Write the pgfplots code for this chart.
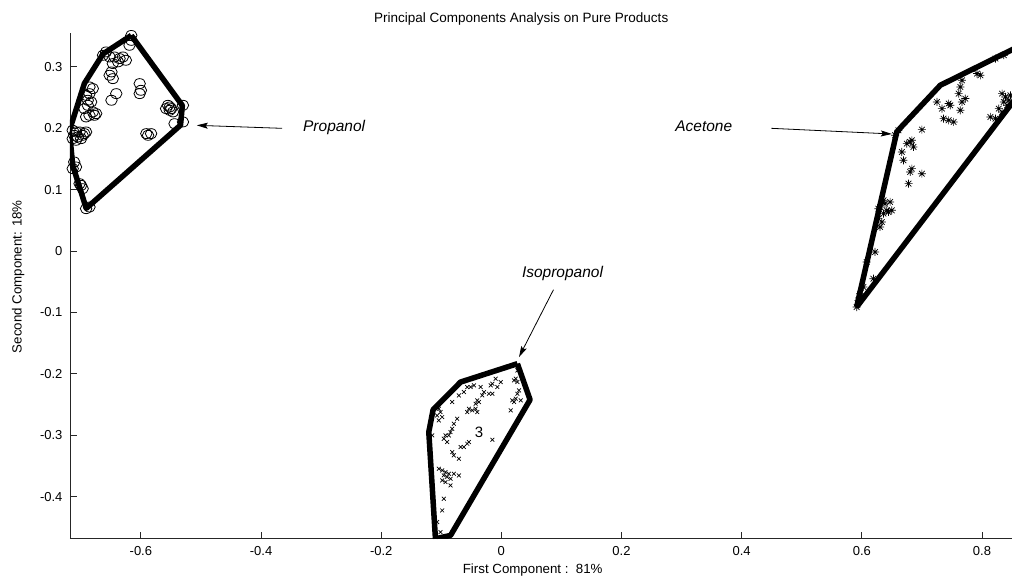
\documentclass[border=0pt]{standalone}
\usepackage{pgfplots}
\pgfplotsset{compat=1.18}
\usepackage{fontspec}
\setmainfont{Liberation Sans}
\usetikzlibrary{arrows.meta}

% eight-ray asterisk: a plus and a cross laid over each other
\pgfdeclareplotmark{star8}{%
  \pgfpathmoveto{\pgfqpoint{-\pgfplotmarksize}{0pt}}%
  \pgfpathlineto{\pgfqpoint{\pgfplotmarksize}{0pt}}%
  \pgfpathmoveto{\pgfqpoint{0pt}{-\pgfplotmarksize}}%
  \pgfpathlineto{\pgfqpoint{0pt}{\pgfplotmarksize}}%
  \pgfpathmoveto{\pgfqpoint{-0.7071\pgfplotmarksize}{-0.7071\pgfplotmarksize}}%
  \pgfpathlineto{\pgfqpoint{0.7071\pgfplotmarksize}{0.7071\pgfplotmarksize}}%
  \pgfpathmoveto{\pgfqpoint{-0.7071\pgfplotmarksize}{0.7071\pgfplotmarksize}}%
  \pgfpathlineto{\pgfqpoint{0.7071\pgfplotmarksize}{-0.7071\pgfplotmarksize}}%
  \pgfusepathqstroke}

\begin{document}
\begin{tikzpicture}
\useasboundingbox (-70pt,-37.5pt) rectangle (942pt,538.5pt);
\begin{axis}[
  at={(0,0)}, anchor=south west,
  scale only axis, width=942pt, height=505.5pt,
  xmin=-0.718, xmax=0.85, ymin=-0.468, ymax=0.355,
  axis x line*=bottom, axis y line*=left,
  axis line style={line width=0.8pt, black!85},
  tick style={line width=0.8pt, black!85},
  tick align=inside, major tick length=7pt,
  xtick={-0.6,-0.4,-0.2,0,0.2,0.4,0.6,0.8},
  ytick={-0.4,-0.3,-0.2,-0.1,0,0.1,0.2,0.3},
  /pgf/number format/assume math mode=true,
  /pgf/number format/fixed,
  ticklabel style={font=\fontsize{13}{15}\selectfont},
  xticklabel style={anchor=base, yshift=-16.5pt},
  yticklabel style={anchor=east, xshift=-4pt},
  label style={font=\fontsize{13.3}{15}\selectfont},
  title style={font=\fontsize{13.5}{15}\selectfont},
  title={Principal Components Analysis on Pure Products},
  title style={at={(axis description cs:0.4790,1.008)}, anchor=base},
  xlabel={First Component :\ \ 81\%},
  xlabel style={at={(axis description cs:0.4912,-0.0688)}, anchor=base},
  ylabel={Second Component: 18\%},
  ylabel style={at={(axis description cs:-0.0513,0.518)}, anchor=base, rotate=0},
]

% Propanol scores
\addplot [only marks, mark=o, mark size=5pt, mark options={xscale=1.15, line width=0.8pt, black}] coordinates {
(-0.616,0.351) (-0.616,0.343) (-0.619,0.335)
(-0.658,0.3242) (-0.663,0.3187) (-0.652,0.316) (-0.644,0.316) (-0.6355,0.3133)
(-0.630,0.316) (-0.625,0.3106) (-0.638,0.308) (-0.6467,0.3052) (-0.649,0.2916)
(-0.652,0.2862) (-0.6467,0.2807)
(-0.602,0.2726) (-0.600,0.2617) (-0.602,0.2563) (-0.641,0.2563) (-0.649,0.2455)
(-0.555,0.2373) (-0.552,0.2346) (-0.558,0.2319) (-0.5493,0.2319) (-0.552,0.2292)
(-0.5465,0.2265) (-0.530,0.2373) (-0.544,0.2074) (-0.530,0.2102)
(-0.591,0.1912) (-0.588,0.1884) (-0.583,0.1912)
(-0.6856,0.2672) (-0.68,0.2645) (-0.6856,0.2563) (-0.6912,0.2536) (-0.6884,0.2455)
(-0.6828,0.2427) (-0.6884,0.2373) (-0.694,0.2319) (-0.68,0.2265) (-0.6745,0.2237)
(-0.6773,0.221) (-0.6856,0.221) (-0.6912,0.2183)
(-0.7135,0.1966) (-0.708,0.1939) (-0.702,0.1939) (-0.711,0.1884) (-0.705,0.1857)
(-0.697,0.1884) (-0.694,0.1912) (-0.7135,0.183) (-0.708,0.1803) (-0.6995,0.183)
(-0.6912,0.1939)
(-0.711,0.145) (-0.708,0.1369) (-0.7135,0.1342)
(-0.702,0.1097) (-0.697,0.1016) (-0.6995,0.107)
(-0.6912,0.069) (-0.6856,0.0717)
};

% Acetone scores
\addplot [only marks, mark=star8, mark size=4pt, mark options={line width=0.7pt, black}] coordinates {
(0.5914,-0.0911) (0.5942,-0.0803) (0.597,-0.0694) (0.6026,-0.0585) (0.6193,-0.0450)
(0.6081,-0.0178) (0.622,-0.0015) (0.6304,0.0392) (0.6332,0.0473) (0.6276,0.0528)
(0.636,0.0609) (0.6415,0.0663) (0.6304,0.0718) (0.6387,0.0772) (0.6471,0.0799)
(0.6276,0.0690) (0.636,0.0826) (0.6443,0.0636) (0.6499,0.0663)
(0.6777,0.1098) (0.70,0.1260) (0.6805,0.1288) (0.6833,0.1342) (0.6693,0.1478)
(0.6666,0.1613) (0.6805,0.1776) (0.686,0.1695) (0.6833,0.1803) (0.6749,0.1749)
(0.70,0.1977) (0.6554,0.1885) (0.661,0.1966)
(0.725,0.2428) (0.7333,0.2319) (0.7445,0.2401) (0.7472,0.2373) (0.7361,0.2156)
(0.7445,0.2129) (0.7528,0.2102) (0.764,0.2292) (0.7667,0.2428) (0.7723,0.2482)
(0.7612,0.2563) (0.764,0.2672) (0.7667,0.278)
(0.7918,0.2889) (0.7973,0.2862) (0.8224,0.3133) (0.8363,0.3188)
(0.8335,0.2563) (0.8391,0.2509) (0.8363,0.2428) (0.8419,0.2373) (0.828,0.2319)
(0.8335,0.2265) (0.814,0.2183) (0.8224,0.2156) (0.8446,0.2455) (0.8474,0.2536)
};

% Isopropanol scores
\addplot [only marks, mark=x, mark size=2.7pt, mark options={line width=0.7pt, black}] coordinates {
(0.0267,-0.1943) (0.0239,-0.2078) (0.0267,-0.2133) (0.0211,-0.2106) (0.0183,-0.2431)
(0.0239,-0.2404) (0.0267,-0.2323) (0.0295,-0.2268) (0.0211,-0.2458) (0.0155,-0.2594)
(0.0322,-0.2431)
(-0.0011,-0.2133) (-0.0095,-0.2078) (-0.015,-0.216) (-0.0178,-0.2187) (-0.0067,-0.2214)
(-0.0206,-0.2323) (-0.015,-0.2323) (-0.029,-0.2296) (-0.0318,-0.235) (-0.0401,-0.2431)
(-0.0373,-0.2458) (-0.0429,-0.2486) (-0.0345,-0.2214) (-0.0457,-0.2187) (-0.0512,-0.2214)
(-0.0568,-0.2214) (-0.0624,-0.2296) (-0.0818,-0.2458) (-0.0707,-0.235)
(-0.054,-0.2567) (-0.0485,-0.2594) (-0.0429,-0.2567) (-0.0401,-0.2621) (-0.0568,-0.2621)
(-0.1041,-0.2567) (-0.1013,-0.2621) (-0.1069,-0.2676) (-0.0985,-0.2703) (-0.1041,-0.2757)
(-0.0735,-0.273) (-0.0791,-0.2811) (-0.0818,-0.2893) (-0.0846,-0.2947) (-0.0874,-0.3001)
(-0.093,-0.3001) (-0.0958,-0.3056) (-0.0902,-0.311) (-0.0624,-0.3191) (-0.0568,-0.3137)
(-0.054,-0.311) (-0.0679,-0.3191) (-0.0818,-0.3273) (-0.0791,-0.3327) (-0.0707,-0.3381)
(-0.015,-0.3072) (-0.1152,-0.3001)
(-0.1041,-0.3544) (-0.0985,-0.3571) (-0.093,-0.3599) (-0.0874,-0.3626) (-0.0958,-0.3653)
(-0.0902,-0.368) (-0.0846,-0.3707) (-0.093,-0.3761) (-0.0846,-0.3816) (-0.0985,-0.3734)
(-0.0707,-0.3653) (-0.0791,-0.3626)
(-0.0958,-0.4033) (-0.0985,-0.4223) (-0.1069,-0.4413) (-0.1013,-0.4576) (-0.1097,-0.4657)
};

% convex hulls of the three groups
\addplot [black, line width=5.5pt, line join=round, mark=none] coordinates {
(-0.616,0.351) (-0.531,0.237) (-0.534,0.205) (-0.691,0.0695) (-0.7135,0.1396)
(-0.719,0.196) (-0.694,0.273) (-0.663,0.321) (-0.616,0.351)
};
\addplot [black, line width=5.5pt, line join=round, mark=none] coordinates {
(0.5914,-0.0911) (0.6582,0.1939) (0.6666,0.2031) (0.7306,0.2699) (0.90,0.352)
(0.90,0.305) (0.5914,-0.0911)
};
\addplot [black, line width=5.5pt, line join=round, mark=none] coordinates {
(0.0267,-0.1834) (0.0478,-0.2421) (-0.0846,-0.463) (-0.1097,-0.4684)
(-0.1208,-0.2947) (-0.1136,-0.2583) (-0.0679,-0.2133) (0.0267,-0.1834)
};

% group labels with pointers
\node [font=\fontsize{15.5}{18}\selectfont\itshape] at (axis cs:-0.2783,0.2015) {Propanol};
\draw [line width=0.8pt, -{Stealth[length=11pt, width=6pt, inset=2pt]}] (axis cs:-0.365,0.1998) -- (axis cs:-0.507,0.2047);
\node [font=\fontsize{15.5}{18}\selectfont\itshape] at (axis cs:0.3369,0.203) {Acetone};
\draw [line width=0.8pt, -{Stealth[length=11pt, width=6pt, inset=2pt]}] (axis cs:0.4496,0.1998) -- (axis cs:0.65,0.1906);
\node [font=\fontsize{15.5}{18}\selectfont\itshape] at (axis cs:0.1018,-0.0358) {Isopropanol};
\draw [line width=0.8pt, -{Stealth[length=11pt, width=6pt, inset=2pt]}] (axis cs:0.0868,-0.0629) -- (axis cs:0.0294,-0.1726);
\node [font=\fontsize{15}{18}\selectfont] at (axis cs:-0.037,-0.295) {3};
\end{axis}
\end{tikzpicture}
\end{document}
